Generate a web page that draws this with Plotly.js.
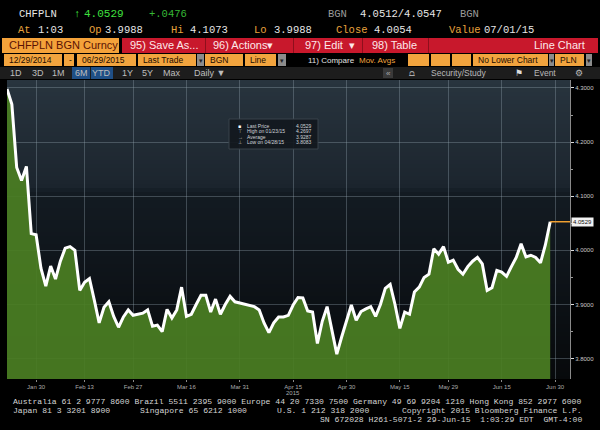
<!DOCTYPE html>
<html><head><meta charset="utf-8">
<script src="https://cdn.plot.ly/plotly-3.0.1.min.js"></script>
<style>html,body{margin:0;padding:0;background:#000;}#chart{width:600px;height:430px;}</style>
</head><body><div id="chart"></div>
<script>
// ---- data ----
const dates = [
'2015-01-22','2015-01-23','2015-01-26','2015-01-27','2015-01-28','2015-01-29','2015-01-30',
'2015-02-02','2015-02-03','2015-02-04','2015-02-05','2015-02-06','2015-02-09','2015-02-10','2015-02-11','2015-02-12','2015-02-13',
'2015-02-16','2015-02-17','2015-02-18','2015-02-19','2015-02-20','2015-02-23','2015-02-24','2015-02-25','2015-02-26','2015-02-27',
'2015-03-02','2015-03-03','2015-03-04','2015-03-05','2015-03-06','2015-03-09','2015-03-10','2015-03-11','2015-03-12','2015-03-13',
'2015-03-16','2015-03-17','2015-03-18','2015-03-19','2015-03-20','2015-03-23','2015-03-24','2015-03-25','2015-03-26','2015-03-27',
'2015-03-30','2015-03-31','2015-04-01','2015-04-02','2015-04-03','2015-04-06','2015-04-07','2015-04-08','2015-04-09','2015-04-10',
'2015-04-13','2015-04-14','2015-04-15','2015-04-16','2015-04-17','2015-04-20','2015-04-21','2015-04-22','2015-04-23','2015-04-24',
'2015-04-27','2015-04-28','2015-04-29','2015-04-30','2015-05-01','2015-05-04','2015-05-05','2015-05-06','2015-05-07','2015-05-08',
'2015-05-11','2015-05-12','2015-05-13','2015-05-14','2015-05-15','2015-05-18','2015-05-19','2015-05-20','2015-05-21','2015-05-22',
'2015-05-25','2015-05-26','2015-05-27','2015-05-28','2015-05-29','2015-06-01','2015-06-02','2015-06-03','2015-06-04','2015-06-05',
'2015-06-08','2015-06-09','2015-06-10','2015-06-11','2015-06-12','2015-06-15','2015-06-16','2015-06-17','2015-06-18','2015-06-19',
'2015-06-22','2015-06-23','2015-06-24','2015-06-25','2015-06-26','2015-06-29'];
const closes = [
4.298,4.2697,4.153,4.129,4.155,4.031,4.029,
3.967,3.934,3.971,3.947,3.980,4.004,4.007,4.000,3.926,3.941,
3.948,3.908,3.866,3.895,3.905,3.878,3.858,3.877,3.890,3.880,
3.882,3.884,3.890,3.860,3.862,3.850,3.891,3.875,3.890,3.932,
3.878,3.882,3.900,3.917,3.917,3.886,3.910,3.882,3.900,3.915,
3.905,3.903,3.900,3.898,3.896,3.890,3.866,3.848,3.866,3.877,
3.877,3.880,3.899,3.913,3.912,3.888,3.886,3.828,3.869,3.896,
3.850,3.8083,3.840,3.870,3.899,3.871,3.887,3.892,3.896,3.878,
3.900,3.930,3.937,3.900,3.856,3.886,3.882,3.923,3.932,3.950,
3.956,4.003,3.993,4.007,3.978,3.982,3.965,3.956,3.970,3.980,
3.987,3.975,3.926,3.931,3.963,3.960,3.952,3.970,3.987,4.012,
3.988,3.991,3.987,3.977,4.010,4.0529];
const tickDates = ['2015-01-30','2015-02-13','2015-02-27','2015-03-16','2015-03-31','2015-04-15','2015-04-30','2015-05-15','2015-05-29','2015-06-15','2015-06-30'];
const tickLabels = ['Jan 30','Feb 13','Feb 27','Mar 16','Mar 31','Apr 15','Apr 30','May 15','May 29','Jun 15','Jun 30'];
const yTicks = [3.8,3.9,4.0,4.1,4.2,4.3];
const yTickLabels = ['3.8000','3.9000','4.0000','4.1000','4.2000','4.3000'];
const statLabels = ['Last Price','High on 01/23/15','Average','Low on 04/28/15'];
const statValues = ['4.0529','4.2697','3.9287','3.8083'];
const lastPriceText = '4.0529';

// ---- layout helpers (pixel -> paper) ----
const L=7, R=570, T=80, B=379;
const px = x => (x-L)/(R-L);
const py = y => (B-y)/(B-T);
const shapes = [];
const ann = [];
function box(x0,x1,y0,y1,fill,line){shapes.push({type:'rect',xref:'paper',yref:'paper',x0:px(x0),x1:px(x1),y0:py(y1),y1:py(y0),fillcolor:fill,line:{width:line?1:0,color:line||fill},layer:'above'});}
function txt(x,y,t,color,size,family,anchor){ann.push({xref:'paper',yref:'paper',x:px(x),y:py(y),text:t,showarrow:false,xanchor:anchor||'left',yanchor:'middle',font:{color:color,size:size,family:family||'Liberation Sans, Arial'}});}

// plot background gradient
const stops=[[80,[40,52,62]],[185,[28,37,46]],[193,[19,27,34]],[260,[15,21,27]],[379,[7,9,11]]];
function col(y){for(let i=0;i<stops.length-1;i++){const a=stops[i],b=stops[i+1];if(y>=a[0]&&y<=b[0]){const t=(y-a[0])/(b[0]-a[0]);return 'rgb('+a[1].map((v,k)=>Math.round(v+(b[1][k]-v)*t)).join(',')+')';}}return 'rgb(7,9,11)';}
for(let y=T;y<B;y+=4){shapes.push({type:'rect',xref:'paper',yref:'paper',x0:0,x1:1,y0:py(Math.min(y+4,B)),y1:py(y),fillcolor:col(y+2),line:{width:0},layer:'below'});}

// header row 1 & 2
const MONO='Liberation Mono, DejaVu Sans Mono, monospace';
const HS=10.5;
txt(17,14,'CHFPLN','#e6e6e6',HS,MONO);
txt(72,14,'↑','#3fe03f',HS,MONO);
txt(82,14,'4.0529','#3fe03f',11,MONO);
txt(147,14,'+.0476','#36b836',HS,MONO);
txt(326,14,'BGN','#9a9a9a',HS,MONO);
txt(358,14,'4.0512/4.0547','#e6e6e6',HS,MONO);
txt(458,14,'BGN','#9a9a9a',HS,MONO);
const OR='#e8a23c', WH='#e6e6e6';
[['At',16,OR],['1:03',36,WH],['Op',87,OR],['3.9988',103,WH],['Hi',169,OR],['4.1073',188,WH],['Lo',252,OR],['3.9988',272,WH],['Close',334,OR],['4.0054',372,WH],['Value',447,OR],['07/01/15',482,WH]].forEach(p=>txt(p[1],30,p[0],p[2],HS,MONO));

// header row 3
box(2,119,38,53,'#f4a23a');
txt(7,45.5,'CHFPLN BGN Curncy','#5a1204',11);
box(122,598,38,53,'#c8182c');
[205,293,362,428].forEach(x=>box(x,x+1,38,53,'#8e0f1c'));
txt(128,45.5,'95) Save As...','#fde8ea',11);
txt(211,45.5,'96) Actions▾','#fde8ea',11);
txt(303,45.5,'97) Edit  ▾','#fde8ea',11);
txt(370,45.5,'98) Table','#fde8ea',11);
txt(587,45.5,'Line Chart','#fde8ea',11,null,'right');

// header row 4
const O2='#f2a43e', G2='#8c8c8c', D='#1c0c00';
[[4,62,'12/29/2014'],[64,74,'-'],[77,136,'06/29/2015'],[138,196,'Last Trade'],[205,243,'BGN'],[245,276,'Line'],[408,429,''],[431,450,''],[452,471,''],[473,548,'No Lower Chart'],[555,584,'PLN']].forEach(b=>{box(b[0],b[1],54,66,O2);if(b[2])txt(b[0]+3,60,b[2],D,8.5);});
[[197,204],[278,286],[549,554],[586,592]].forEach(b=>{box(b[0],b[1],54,66,G2);txt((b[0]+b[1])/2,60,'▾','#222',7,null,'center');});
txt(306,60,'11) Compare','#e0e0e0',8);
txt(357,60,'Mov. Avgs','#f2a43e',8);

// header row 5
box(0,600,67,79,'#1d1d1d');
box(72,90,67,79,'#1f4f86');
box(91,113,67,79,'#1f4f86');
[['1D',16],['3D',37.5],['1M',58.5],['6M',81],['YTD',102],['1Y',127.5],['5Y',147.5],['Max',171.5]].forEach(p=>txt(p[1],73,p[0],'#bdbdbd',9,null,'center'));
txt(192,73,'Daily ▼','#bdbdbd',9);
box(383,393,68,78,'#3a3a3a');
txt(388,73,'«','#aaaaaa',8,null,'center');
txt(412,73,'⩍','#aaaaaa',9,null,'center');
txt(429,73,'Security/Study','#b8b8b8',8.5);
txt(519,73,'⚑','#dddddd',9,null,'center');
txt(532,73,'Event','#b8b8b8',8.5);
txt(579,73,'⚙','#bbbbbb',9,null,'center');

// legend box
box(229,318,119,149,'rgba(18,24,30,0.93)','#39434b');
const rowsY=[125.5,131,136.5,142];
const icons=['■','⊤','→','⊥'];
statLabels.forEach((s,i)=>{txt(236,rowsY[i],icons[i],i===0?'#ffffff':'#bbbbbb',5);txt(245,rowsY[i],s,'#cfd4d8',5);txt(314,rowsY[i],statValues[i],'#cfd4d8',5,null,'right');});

// last price tag
const lastDate = dates[dates.length-1], lastVal = closes[closes.length-1];
const xEnd = '2015-07-03 02:00';
shapes.push({type:'line',xref:'x',yref:'y',x0:lastDate,x1:xEnd,y0:lastVal,y1:lastVal,line:{color:'#f0a030',width:1.5},layer:'above'});
ann.push({xref:'paper',yref:'y',x:1,y:lastVal,xshift:1,text:lastPriceText,showarrow:false,xanchor:'left',yanchor:'middle',bgcolor:'#f2f2f2',borderpad:1,font:{color:'#111',size:6,family:'Liberation Sans, Arial'}});

// x axis year + footer
txt(293,393,'2015','#aaaaaa',6,null,'center');
const FM='Liberation Mono, DejaVu Sans Mono, monospace';
const FS=8.1, FC='#d4d4d4';
txt(11,401,'Australia 61 2 9777 8600 Brazil 5511 2395 9000 Europe 44 20 7330 7500 Germany 49 69 9204 1210 Hong Kong 852 2977 6000',FC,FS,FM);
txt(11,410,'Japan 81 3 3201 8900',FC,FS,FM);
txt(138,410,'Singapore 65 6212 1000',FC,FS,FM);
txt(275,410,'U.S. 1 212 318 2000',FC,FS,FM);
txt(584,410,'Copyright 2015 Bloomberg Finance L.P.',FC,FS,FM,'right');
txt(584,419,'SN 672028 H261-5071-2 29-Jun-15\u00a0\u00a01:03:29 EDT\u00a0\u00a0GMT-4:00',FC,FS,FM,'right');

const trace = {
  x: dates, y: closes, type:'scatter', mode:'lines',
  line:{color:'#ffffff', width:3},
  fill:'tozeroy', fillcolor:'rgba(74,126,34,0.93)',
  hoverinfo:'skip'
};

const layout = {
  width:600, height:430,
  margin:{l:L, r:600-R, t:T, b:430-B, pad:0},
  paper_bgcolor:'#000000', plot_bgcolor:'rgba(0,0,0,0)',
  showlegend:false,
  xaxis:{
    type:'date', range:[dates[0], xEnd],
    rangebreaks:[{bounds:['sat','mon']}],
    tickmode:'array', tickvals:tickDates, ticktext:tickLabels,
    showgrid:true, gridcolor:'rgba(150,165,178,0.35)', gridwidth:1,
    ticks:'outside', ticklen:2, tickcolor:'#888',
    tickfont:{size:6, color:'#aaaaaa', family:'Liberation Sans, Arial'},
    zeroline:false, showline:false, fixedrange:true
  },
  yaxis:{
    side:'right', range:[3.7624, 4.3147],
    tickmode:'array', tickvals:yTicks, ticktext:yTickLabels,
    showgrid:true, gridcolor:'rgba(150,165,178,0.35)', gridwidth:1,
    ticks:'outside', ticklen:3, tickcolor:'#dddddd',
    minor:{dtick:0.05, tick0:3.75, ticks:'outside', ticklen:2, tickcolor:'#999', showgrid:false},
    showline:true, linecolor:'#8a8a8a', linewidth:1,
    tickfont:{size:6, color:'#c8c8c8', family:'Liberation Sans, Arial'},
    zeroline:false, fixedrange:true
  },
  shapes: shapes,
  annotations: ann
};
Plotly.newPlot('chart',[trace],layout,{staticPlot:true, displayModeBar:false});
</script></body></html>
